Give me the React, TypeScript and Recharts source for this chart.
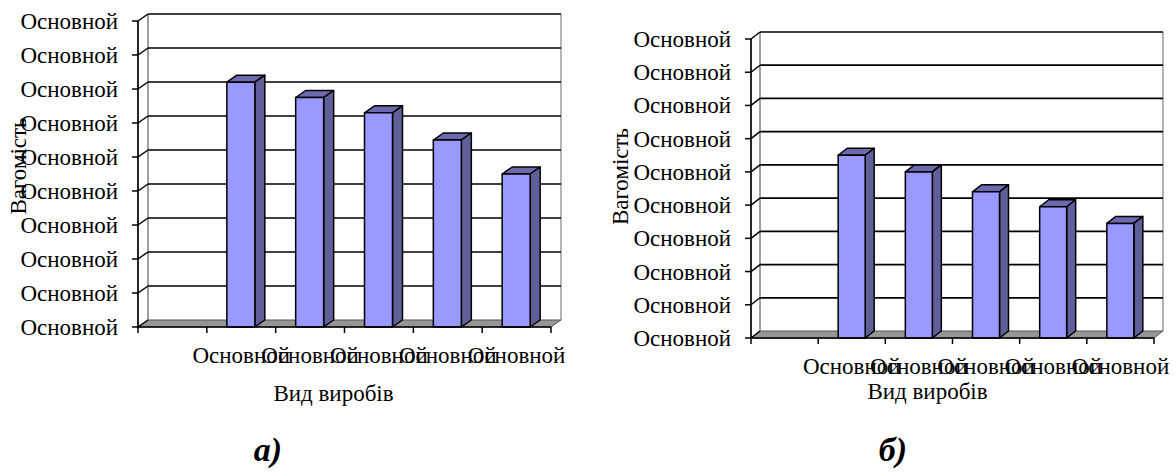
import { BarChart, Bar, XAxis, YAxis, CartesianGrid } from 'recharts';

// categories (first slot is empty, as in the source chart)
const categories = ['', 'Основной', 'Основной', 'Основной', 'Основной', 'Основной'];
const weightsA = [null, 7.2, 6.75, 6.3, 5.5, 4.5];
const weightsB = [null, 5.5, 5.0, 4.4, 3.95, 3.45];
const valueTicks = [0, 1, 2, 3, 4, 5, 6, 7, 8, 9];
const valueTickLabel = 'Основной';
const xTitle = 'Вид виробів';
const yTitle = 'Вагомість';
const panelTags = ['а)', 'б)'];

const FONT = "'Liberation Serif', 'Times New Roman', serif";
const FS = 23;
const FRONT = '#9999ff';
const SIDE = '#5f5f99';
const TOP = '#6a6aad';

interface PanelProps {
  values: (number | null)[];
  width: number;
  height: number;
  margin: { top: number; right: number; bottom: number; left: number };
  yAxisWidth: number;
  xAxisHeight: number;
  dx: number;
  dy: number;
  barSize: number;
  labelDy: number;
  xTitleDx: number;
  xTitleDy: number;
  yTitleX: number;
  yTitleDy: number;
}

function Panel(cfg: PanelProps) {
  const { dx, dy } = cfg;
  const data = categories.map((name, i) => ({ name, value: cfg.values[i] }));

  const Bar3D = (p: any) => {
    const { x, y, width, height } = p;
    if (!height || height <= 0) return null;
    const r = x + width;
    const b = y + height;
    return (
      <g stroke="#000" strokeWidth={1.5} strokeLinejoin="round">
        <polygon points={`${x},${y} ${x + dx},${y - dy} ${r + dx},${y - dy} ${r},${y}`} fill={TOP} />
        <polygon points={`${r},${y} ${r + dx},${y - dy} ${r + dx},${b - dy} ${r},${b}`} fill={SIDE} />
        <rect x={x} y={y} width={width} height={height} fill={FRONT} />
      </g>
    );
  };

  // back wall gridlines, shifted into depth; the first call also draws floor and wall edges
  const gridLine = (p: any) => {
    const bottom = p.y + p.height;
    const isBottom = Math.abs(p.y1 - bottom) < 1;
    return (
      <g key={p.key}>
        {p.index === 0 && (
          <g>
            <line x1={p.x + dx} y1={p.y - dy} x2={p.x + dx} y2={bottom - dy} stroke="#a0a0a0" strokeWidth={2} />
            <line x1={p.x + p.width + dx} y1={p.y - dy} x2={p.x + p.width + dx} y2={bottom - dy} stroke="#b4b4b4" strokeWidth={2} />
            <polygon
              points={`${p.x},${bottom} ${p.x + dx},${bottom - dy} ${p.x + p.width + dx},${bottom - dy} ${p.x + p.width},${bottom}`}
              fill="#969696"
              stroke="#555"
              strokeWidth={1}
            />
          </g>
        )}
        {!isBottom && (
          <line x1={p.x1 + dx} y1={p.y1 - dy} x2={p.x2 + dx} y2={p.y2 - dy} stroke="#000" strokeWidth={1.7} />
        )}
      </g>
    );
  };

  const YTick = (p: any) => {
    const { x, y } = p;
    return (
      <g>
        <line x1={x - 6} y1={y} x2={x} y2={y} stroke="#000" strokeWidth={1.5} />
        <line x1={x} y1={y} x2={x + dx} y2={y - dy} stroke="#000" strokeWidth={1.5} />
        <text x={x - 20} y={y} dy="0.35em" textAnchor="end" fontFamily={FONT} fontSize={FS} fill="#000">
          {valueTickLabel}
        </text>
      </g>
    );
  };

  const XTick = (p: any) => {
    const { x, y, payload, index } = p;
    const half = payload.offset || 34;
    return (
      <g>
        <line x1={x - half} y1={y} x2={x - half} y2={y + 6} stroke="#000" strokeWidth={1.5} />
        {index === categories.length - 1 && (
          <line x1={x + half} y1={y} x2={x + half} y2={y + 6} stroke="#000" strokeWidth={1.5} />
        )}
        {payload.value ? (
          <text x={x} y={y + cfg.labelDy} dy="0.35em" textAnchor="middle" fontFamily={FONT} fontSize={FS} fill="#000">
            {payload.value}
          </text>
        ) : null}
      </g>
    );
  };

  const XTitle = (p: any) => {
    const vb = p.viewBox;
    return (
      <text
        x={vb.x + vb.width / 2 + cfg.xTitleDx}
        y={vb.y + cfg.xTitleDy}
        dy="0.35em"
        textAnchor="middle"
        fontFamily={FONT}
        fontSize={FS}
        fill="#000"
      >
        {xTitle}
      </text>
    );
  };

  const YTitle = (p: any) => {
    const vb = p.viewBox;
    const cx = vb.x + cfg.yTitleX;
    const cy = vb.y + vb.height / 2 + cfg.yTitleDy;
    return (
      <text
        x={cx}
        y={cy}
        dy="0.35em"
        textAnchor="middle"
        transform={`rotate(-90 ${cx} ${cy})`}
        fontFamily={FONT}
        fontSize={FS}
        fill="#000"
      >
        {yTitle}
      </text>
    );
  };

  return (
    <BarChart width={cfg.width} height={cfg.height} data={data} margin={cfg.margin}>
      <CartesianGrid horizontal={gridLine} vertical={false} />
      <XAxis
        dataKey="name"
        interval={0}
        height={cfg.xAxisHeight}
        tickSize={0}
        tickMargin={0}
        tick={XTick}
        axisLine={{ stroke: '#000', strokeWidth: 1.7 }}
        label={{ value: xTitle, content: XTitle }}
      />
      <YAxis
        type="number"
        domain={[0, 9]}
        ticks={valueTicks}
        interval={0}
        width={cfg.yAxisWidth}
        tickSize={0}
        tickMargin={0}
        tick={YTick}
        axisLine={{ stroke: '#000', strokeWidth: 1.7 }}
        label={{ value: yTitle, content: YTitle }}
      />
      <Bar dataKey="value" barSize={cfg.barSize} shape={Bar3D} isAnimationActive={false} />
    </BarChart>
  );
}

export default function App() {
  return (
    <div style={{ position: 'absolute', left: 0, top: 0, width: 1176, height: 476, background: '#fff' }}>
      <div style={{ position: 'absolute', left: 0, top: 0 }}>
        <Panel
          values={weightsA}
          width={590}
          height={420}
          margin={{ top: 21, right: 39, bottom: 0, left: 0 }}
          yAxisWidth={138}
          xAxisHeight={93}
          dx={10}
          dy={7}
          barSize={28}
          labelDy={28}
          xTitleDx={-11}
          xTitleDy={66}
          yTitleX={18}
          yTitleDy={-8}
        />
      </div>
      <div style={{ position: 'absolute', left: 590, top: 0 }}>
        <Panel
          values={weightsB}
          width={586}
          height={420}
          margin={{ top: 39, right: 22, bottom: 0, left: 0 }}
          yAxisWidth={161}
          xAxisHeight={82}
          dx={9}
          dy={7}
          barSize={27}
          labelDy={28}
          xTitleDx={-25}
          xTitleDy={53}
          yTitleX={30}
          yTitleDy={-12}
        />
      </div>
      {panelTags.map((t, i) => (
        <div
          key={i}
          style={{
            position: 'absolute',
            left: i === 0 ? 238 : 863,
            top: 430,
            width: 60,
            textAlign: 'center',
            fontFamily: FONT,
            fontSize: 34,
            lineHeight: '40px',
            fontWeight: 'bold',
            fontStyle: 'italic',
          }}
        >
          {t}
        </div>
      ))}
    </div>
  );
}
